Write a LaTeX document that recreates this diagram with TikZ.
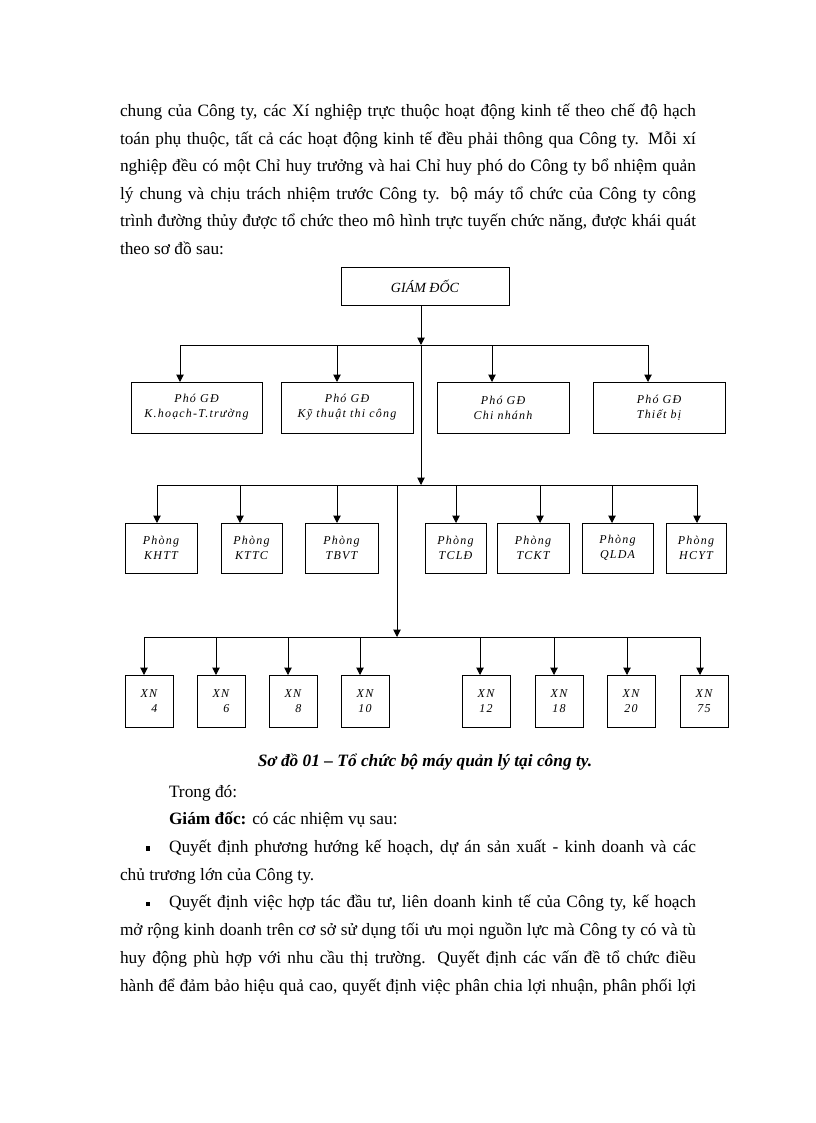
\documentclass[tikz,border=0pt]{standalone}
\usepackage{fontspec}
\setmainfont{Liberation Serif}
\newfontfamily\boxfont[LetterSpace=10]{Liberation Serif}
\usetikzlibrary{arrows.meta}
\begin{document}
\begin{tikzpicture}[x=0.75pt,y=-0.75pt,
  every node/.style={inner sep=0pt,outer sep=0pt},
  box/.style 2 args={draw,line width=0.75pt,minimum width=#1*0.75pt,minimum height=#2*0.75pt,align=center,
     font=\boxfont\itshape\fontsize{9}{11.25}\selectfont},
  conn/.style={line width=0.75pt},
  arr/.style={line width=0.75pt,-{Triangle[length=5.5pt,width=5.5pt]}},
  body/.style={anchor=base west,font=\fontsize{13}{16}\selectfont},
  captext/.style={font=\bfseries\itshape\fontsize{13}{15}\selectfont},
  sqbullet/.style={fill=black,minimum size=3.4pt}
]
\useasboundingbox (0,0) rectangle (816,1123);

% ---- top paragraph
\node[body] (t1) at (120,117) {\makebox[432pt][s]{chung của Công ty, các Xí nghiệp trực thuộc hoạt động kinh tế theo chế độ hạch}};
\node[body] (t2) at (120,144.4) {\makebox[432pt][s]{toán phụ thuộc, tất cả các hoạt động kinh tế đều phải thông qua Công ty. Mỗi xí}};
\node[body] (t3) at (120,171.8) {\makebox[432pt][s]{nghiệp đều có một Chỉ huy trưởng và hai Chỉ huy phó do Công ty bổ nhiệm quản}};
\node[body] (t4) at (120,199.2) {\makebox[432pt][s]{lý chung và chịu trách nhiệm trước Công ty. bộ máy tổ chức của Công ty công}};
\node[body] (t5) at (120,226.6) {\makebox[432pt][s]{trình đường thủy được tổ chức theo mô hình trực tuyến chức năng, được khái quát}};
\node[body] (t6) at (120,254) {theo sơ đồ sau:};

% ---- chart
\node[box={168}{38},font=\itshape\fontsize{10.5}{12}\selectfont] (gd) at (425,286) {GIÁM ĐỐC};

\node[box={131}{51}] (p1) at (196.5,407.5) {Phó GĐ\\K.hoạch-T.trường};
\node[box={132}{51}] (p2) at (347,407.5) {Phó GĐ\\Kỹ thuật thi công};
\node[box={132}{51}] (p3) at (503,407.5) {Phó GĐ\\Chi nhánh};
\node[box={132}{51}] (p4) at (659,407.5) {Phó GĐ\\Thiết bị};

\node[box={72}{50}] (r1) at (161,548) {Phòng\\KHTT};
\node[box={61}{50}] (r2) at (251.5,548) {Phòng\\KTTC};
\node[box={73}{50}] (r3) at (341.5,548) {Phòng\\TBVT};
\node[box={61}{50}] (r4) at (455.5,548) {Phòng\\TCLĐ};
\node[box={72}{50}] (r5) at (533,548) {Phòng\\TCKT};
\node[box={71}{50}] (r6) at (617.5,548) {Phòng\\QLDA};
\node[box={60}{50}] (r7) at (696,548) {Phòng\\HCYT};

\node[box={48}{52},align=left] (x1) at (149,701) {XN\\\hspace*{8pt}4};
\node[box={48}{52},align=left] (x2) at (221,701) {XN\\\hspace*{8pt}6};
\node[box={48}{52},align=left] (x3) at (293,701) {XN\\\hspace*{8pt}8};
\node[box={48}{52}] (x4) at (365,701) {XN\\10};
\node[box={48}{52}] (x5) at (486,701) {XN\\12};
\node[box={48}{52}] (x6) at (559,701) {XN\\18};
\node[box={48}{52}] (x7) at (631,701) {XN\\20};
\node[box={48}{52}] (x8) at (704,701) {XN\\75};

% junctions
\coordinate (j1) at (421,345);
\coordinate (j2) at (421,485);
\coordinate (j3) at (397,485);
\coordinate (j4) at (397,637);

\draw[arr] (gd.south -| j1) -- (j1);
\draw[arr] (j1) -- (j2);
\draw[arr] (j3) -- (j4);

% buses
\coordinate (b1l) at (180,345); \coordinate (b1r) at (648,345);
\coordinate (b2l) at (157,485); \coordinate (b2r) at (697,485);
\coordinate (b3l) at (144,637); \coordinate (b3r) at (700,637);
\draw[conn] (b1l) -- (b1r);
\draw[conn] (b2l) -- (b2r);
\draw[conn] (b3l) -- (b3r);

\foreach \n/\xa in {p1/180,p2/337,p3/492,p4/648}{
  \coordinate (c) at (\xa,345);
  \draw[arr] (c) -- (c |- \n.north);}
\foreach \n/\xa in {r1/157,r2/240,r3/337,r4/456,r5/540,r6/612,r7/697}{
  \coordinate (c) at (\xa,485);
  \draw[arr] (c) -- (c |- \n.north);}
\foreach \n/\xa in {x1/144,x2/216,x3/288,x4/360,x5/480,x6/554,x7/627,x8/700}{
  \coordinate (c) at (\xa,637);
  \draw[arr] (c) -- (c |- \n.north);}

\node[captext] (caption) at (425,762) {Sơ đồ 01 – Tổ chức bộ máy quản lý tại công ty.};

% ---- bottom text
\node[body] (u1) at (169,797) {Trong đó:};
\node[body] (u2) at (169,824.7) {\textbf{Giám đốc:} có các nhiệm vụ sau:};
\node[sqbullet] (bl1) at (148,848.4) {};
\node[body] (u3) at (169,852.4) {\makebox[395.25pt][s]{Quyết định phương hướng kế hoạch, dự án sản xuất - kinh doanh và các}};
\node[body] (u4) at (120,880.1) {chủ trương lớn của Công ty.};
\node[sqbullet] (bl2) at (148,903.9) {};
\node[body] (u5) at (169,907.9) {\makebox[395.25pt][s]{Quyết định việc hợp tác đầu tư, liên doanh kinh tế của Công ty, kế hoạch}};
\node[body] (u6) at (120,935.6) {\makebox[432pt][s]{mở rộng kinh doanh trên cơ sở sử dụng tối ưu mọi nguồn lực mà Công ty có và tù}};
\node[body] (u7) at (120,963.3) {\makebox[432pt][s]{huy động phù hợp với nhu cầu thị trường. Quyết định các vấn đề tổ chức điều}};
\node[body] (u8) at (120,991) {\makebox[432pt][s]{hành để đảm bảo hiệu quả cao, quyết định việc phân chia lợi nhuận, phân phối lợi}};
\end{tikzpicture}
\end{document}
